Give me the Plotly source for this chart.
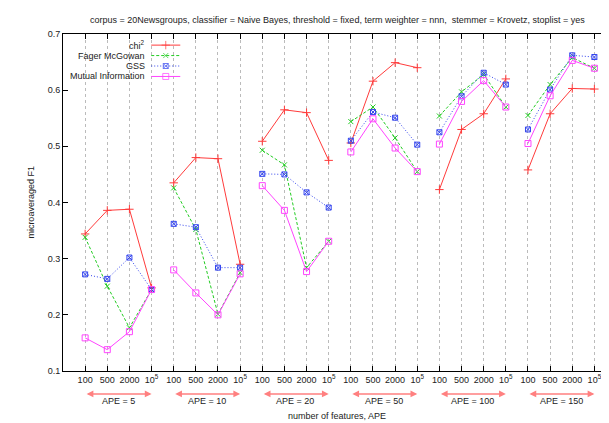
import plotly.graph_objects as go

title_text = ("corpus = 20Newsgroups, classifier = Naive Bayes, threshold = fixed, "
              "term weighter = nnn,  stemmer = Krovetz, stoplist = yes")
ape_groups = ["APE = 5", "APE = 10", "APE = 20", "APE = 50", "APE = 100", "APE = 150"]
feature_labels = ["100", "500", "2000", "10<sup>5</sup>"]

chi2 = [[0.344, 0.386, 0.388, 0.248],
        [0.435, 0.480, 0.478, 0.290],
        [0.509, 0.565, 0.560, 0.475],
        [0.506, 0.616, 0.649, 0.640],
        [0.423, 0.530, 0.558, 0.620],
        [0.458, 0.558, 0.603, 0.602]]
fager = [[0.338, 0.251, 0.177, 0.245],
         [0.426, 0.352, 0.201, 0.275],
         [0.493, 0.467, 0.284, 0.331],
         [0.544, 0.570, 0.515, 0.455],
         [0.554, 0.597, 0.628, 0.570],
         [0.555, 0.610, 0.658, 0.639]]
gss = [[0.272, 0.264, 0.302, 0.245],
       [0.362, 0.356, 0.284, 0.284],
       [0.451, 0.450, 0.418, 0.391],
       [0.510, 0.561, 0.551, 0.503],
       [0.525, 0.589, 0.631, 0.610],
       [0.530, 0.601, 0.662, 0.659]]
mi = [[0.159, 0.138, 0.170, 0.245],
      [0.280, 0.239, 0.200, 0.273],
      [0.430, 0.386, 0.277, 0.331],
      [0.490, 0.549, 0.497, 0.455],
      [0.504, 0.580, 0.617, 0.570],
      [0.505, 0.590, 0.653, 0.639]]

series = [
    ("chi<sup>2</sup>", chi2, "#ff3b3b", "solid", "cross-thin-open", 6),
    ("Fager McGowan", fager, "#22cc22", "3px,2px", "x-thin-open", 5),
    ("GSS", gss, "#3344ee", "1px,2px", "square-x-open", 5),
    ("Mutual Information", mi, "#ff44ff", "solid", "square-open", 6),
]

FONT = "Liberation Sans, Arial, sans-serif"

def flatten(groups):
    xs, ys = [], []
    for g, vals in enumerate(groups):
        for k, v in enumerate(vals):
            xs.append(g * 4 + k + 1)
            ys.append(v)
        xs.append(None)
        ys.append(None)
    return xs, ys

fig = go.Figure()
for name, data, color, dash, sym, size in series:
    xs, ys = flatten(data)
    fig.add_trace(go.Scatter(
        x=xs, y=ys, mode="lines+markers", name=name, showlegend=False,
        line=dict(color=color, width=1, dash=dash),
        marker=dict(symbol=sym, size=size, color=color,
                    line=dict(color=color, width=1)),
    ))

# custom legend (text right-aligned, sample to its right as in a gnuplot key)
leg_y = [0.967, 0.936, 0.905, 0.874]
annotations = []
for (name, data, color, dash, sym, size), yy in zip(series, leg_y):
    fig.add_trace(go.Scatter(
        x=[0.161, 0.1875, 0.214], y=[yy, yy, yy], xaxis="x2", yaxis="y2",
        mode="lines+markers", showlegend=False, hoverinfo="skip",
        line=dict(color=color, width=1, dash=dash),
        marker=dict(symbol=sym, size=[0, size, 0], color=color,
                    line=dict(color=color, width=1)),
    ))
    annotations.append(dict(
        x=0.153, y=yy, xref="paper", yref="paper", text=name, showarrow=False,
        xanchor="right", yanchor="middle",
        font=dict(family=FONT, size=9, color="#222")))

tickvals = [g * 4 + k + 1 for g in range(len(ape_groups)) for k in range(4)]
ticktext = feature_labels * len(ape_groups)

# group arrows and labels
for g, lab in enumerate(ape_groups):
    x0 = g * 4 + 1
    x1 = g * 4 + 4
    annotations.append(dict(
        x=x1, y=-0.068, xref="x", yref="paper",
        ax=x0, ay=0, axref="x", ayref="pixel",
        showarrow=True, arrowside="end+start", arrowhead=2, arrowsize=0.9,
        arrowwidth=1.5, arrowcolor="#ff8080", text=""))
    annotations.append(dict(
        x=(x0 + x1) / 2, y=-0.088, xref="x", yref="paper", text=lab,
        showarrow=False, yanchor="middle",
        font=dict(family=FONT, size=9, color="#222")))

annotations.append(dict(
    x=0.5, y=-0.133, xref="paper", yref="paper", text="number of features, APE",
    showarrow=False, yanchor="middle", font=dict(family=FONT, size=9, color="#222")))
annotations.append(dict(
    x=-0.06, y=0.5, xref="paper", yref="paper", text="microaveraged F1",
    showarrow=False, textangle=-90, xanchor="center", yanchor="middle",
    font=dict(family=FONT, size=9, color="#222")))
annotations.append(dict(
    x=0.5, y=1.0, xref="paper", yref="paper", yshift=14, text=title_text,
    showarrow=False, yanchor="middle", font=dict(family=FONT, size=9, color="#222")))

fig.update_layout(
    width=609, height=423,
    margin=dict(l=55, r=6, t=26, b=60),
    paper_bgcolor="white", plot_bgcolor="white",
    font=dict(family=FONT, size=9, color="#222"),
    xaxis=dict(range=[0, 24.75], tickvals=tickvals, ticktext=ticktext,
               ticks="inside", ticklen=5, tickcolor="black", mirror="allticks",
               showline=True, linecolor="black", linewidth=1,
               showgrid=True, gridcolor="#bbbbbb", griddash="dot", gridwidth=1,
               zeroline=False, tickfont=dict(family=FONT, size=9, color="#222")),
    yaxis=dict(range=[0.1, 0.7], dtick=0.1, tickformat=".1f",
               ticks="inside", ticklen=5, tickcolor="black", mirror="allticks",
               showline=True, linecolor="black", linewidth=1,
               showgrid=False, zeroline=False,
               tickfont=dict(family=FONT, size=9, color="#222")),
    xaxis2=dict(overlaying="x", range=[0, 1], visible=False),
    yaxis2=dict(overlaying="y", range=[0, 1], visible=False),
    annotations=annotations,
    showlegend=False,
)

fig.write_html("out.html")
